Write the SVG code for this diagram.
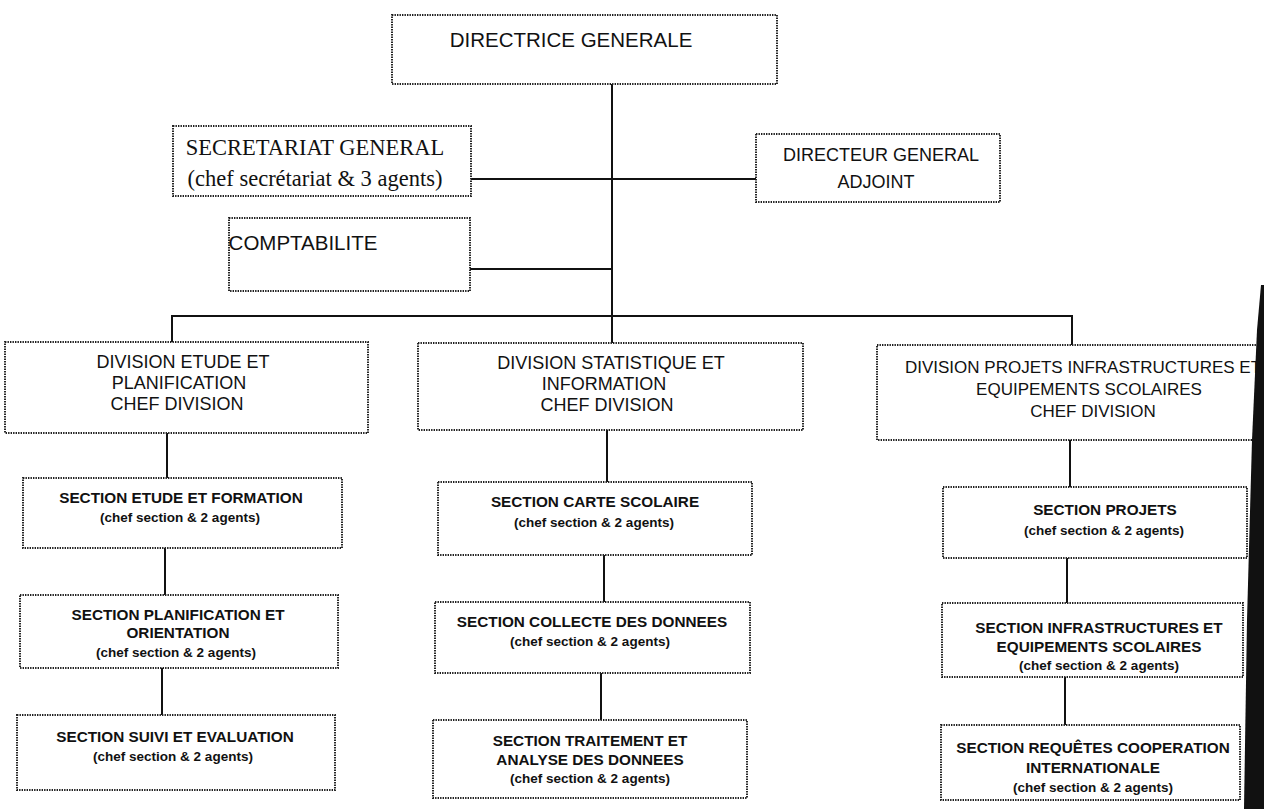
<svg xmlns="http://www.w3.org/2000/svg" width="1264" height="809" viewBox="0 0 1264 809">
<style>
.box{fill:none;stroke:#1e1e1e;stroke-width:1.9;stroke-dasharray:1.4 1.1}
.conn{fill:none;stroke:#111;stroke-width:2}
text{font-family:"Liberation Sans",Arial,sans-serif;fill:#111;text-anchor:middle}
.top{font-size:20.5px}
.serif{font-family:"Liberation Serif","Times New Roman",serif;font-size:22.5px}
.dir{font-size:18px}
.div{font-size:18px}
.divr{font-size:17px}
.sec{font-size:15.3px;font-weight:bold}
.sub{font-size:13.5px;font-weight:bold}
</style>
<rect width="1264" height="809" fill="#fff"/>
<g id="connectors">
<path class="conn" d="M612,84 V343"/>
<path class="conn" d="M471,179 H756"/>
<path class="conn" d="M470,269 H612"/>
<path class="conn" d="M172,342 V316 H1072 V345"/>
<path class="conn" d="M167,433 V478 M165,548 V595 M162,668 V715"/>
<path class="conn" d="M607,430 V482 M604,555 V602 M601,673 V720"/>
<path class="conn" d="M1070,440 V487 M1067,558 V603 M1065,677 V725"/>
</g>
<g id="directrice">
<rect class="box" x="392" y="15" width="385" height="69"/>
<text class="top" x="571" y="47">DIRECTRICE GENERALE</text>
</g>
<g id="secretariat">
<rect class="box" x="173" y="126" width="298" height="70"/>
<text class="serif" x="315" y="155">SECRETARIAT GENERAL</text>
<text class="serif" x="315" y="186">(chef secrétariat &amp; 3 agents)</text>
</g>
<g id="directeur">
<rect class="box" x="756" y="134" width="244" height="68"/>
<text class="dir" x="881" y="161">DIRECTEUR GENERAL</text>
<text class="dir" x="876" y="188">ADJOINT</text>
</g>
<g id="comptabilite">
<rect class="box" x="229" y="218" width="241" height="73"/>
<text class="top" x="303" y="250">COMPTABILITE</text>
</g>
<g id="div-etude">
<rect class="box" x="5" y="342" width="363" height="91"/>
<text class="div" x="183" y="368">DIVISION ETUDE ET</text>
<text class="div" x="179" y="389">PLANIFICATION</text>
<text class="div" x="177" y="410">CHEF DIVISION</text>
</g>
<g id="div-stat">
<rect class="box" x="418" y="343" width="385" height="87"/>
<text class="div" x="611" y="369">DIVISION STATISTIQUE ET</text>
<text class="div" x="604" y="390">INFORMATION</text>
<text class="div" x="607" y="411">CHEF DIVISION</text>
</g>
<g id="div-projets">
<rect class="box" x="877" y="345" width="400" height="95"/>
<text class="divr" x="1083" y="373">DIVISION PROJETS INFRASTRUCTURES ET</text>
<text class="divr" x="1089" y="395">EQUIPEMENTS SCOLAIRES</text>
<text class="divr" x="1093" y="417">CHEF DIVISION</text>
</g>
<g id="sec-etude">
<rect class="box" x="23" y="478" width="319" height="70"/>
<text class="sec" x="181" y="503">SECTION ETUDE ET FORMATION</text>
<text class="sub" x="180" y="522">(chef section &amp; 2 agents)</text>
</g>
<g id="sec-planif">
<rect class="box" x="20" y="595" width="318" height="73"/>
<text class="sec" x="178" y="620">SECTION PLANIFICATION ET</text>
<text class="sec" x="178" y="638">ORIENTATION</text>
<text class="sub" x="176" y="657">(chef section &amp; 2 agents)</text>
</g>
<g id="sec-suivi">
<rect class="box" x="17" y="715" width="318" height="75"/>
<text class="sec" x="175" y="742">SECTION SUIVI ET EVALUATION</text>
<text class="sub" x="173" y="761">(chef section &amp; 2 agents)</text>
</g>
<g id="sec-carte">
<rect class="box" x="438" y="482" width="314" height="73"/>
<text class="sec" x="595" y="507">SECTION CARTE SCOLAIRE</text>
<text class="sub" x="594" y="527">(chef section &amp; 2 agents)</text>
</g>
<g id="sec-collecte">
<rect class="box" x="435" y="602" width="315" height="71"/>
<text class="sec" x="592" y="627">SECTION COLLECTE DES DONNEES</text>
<text class="sub" x="590" y="646">(chef section &amp; 2 agents)</text>
</g>
<g id="sec-traitement">
<rect class="box" x="433" y="720" width="314" height="78"/>
<text class="sec" x="590" y="746">SECTION TRAITEMENT ET</text>
<text class="sec" x="590" y="765">ANALYSE DES DONNEES</text>
<text class="sub" x="590" y="783">(chef section &amp; 2 agents)</text>
</g>
<g id="sec-projets">
<rect class="box" x="943" y="487" width="304" height="71"/>
<text class="sec" x="1105" y="515">SECTION PROJETS</text>
<text class="sub" x="1104" y="535">(chef section &amp; 2 agents)</text>
</g>
<g id="sec-infra">
<rect class="box" x="942" y="603" width="301" height="74"/>
<text class="sec" x="1099" y="633">SECTION INFRASTRUCTURES ET</text>
<text class="sec" x="1099" y="652">EQUIPEMENTS SCOLAIRES</text>
<text class="sub" x="1099" y="670">(chef section &amp; 2 agents)</text>
</g>
<g id="sec-requetes">
<rect class="box" x="941" y="725" width="299" height="75"/>
<text class="sec" x="1093" y="753">SECTION REQUÊTES COOPERATION</text>
<text class="sec" x="1093" y="773">INTERNATIONALE</text>
<text class="sub" x="1093" y="792">(chef section &amp; 2 agents)</text>
</g>
<path d="M1261,285 L1264,285 L1264,809 L1244,809 L1247,620 L1252,440 L1257,330 Z" fill="#111"/>
</svg>
